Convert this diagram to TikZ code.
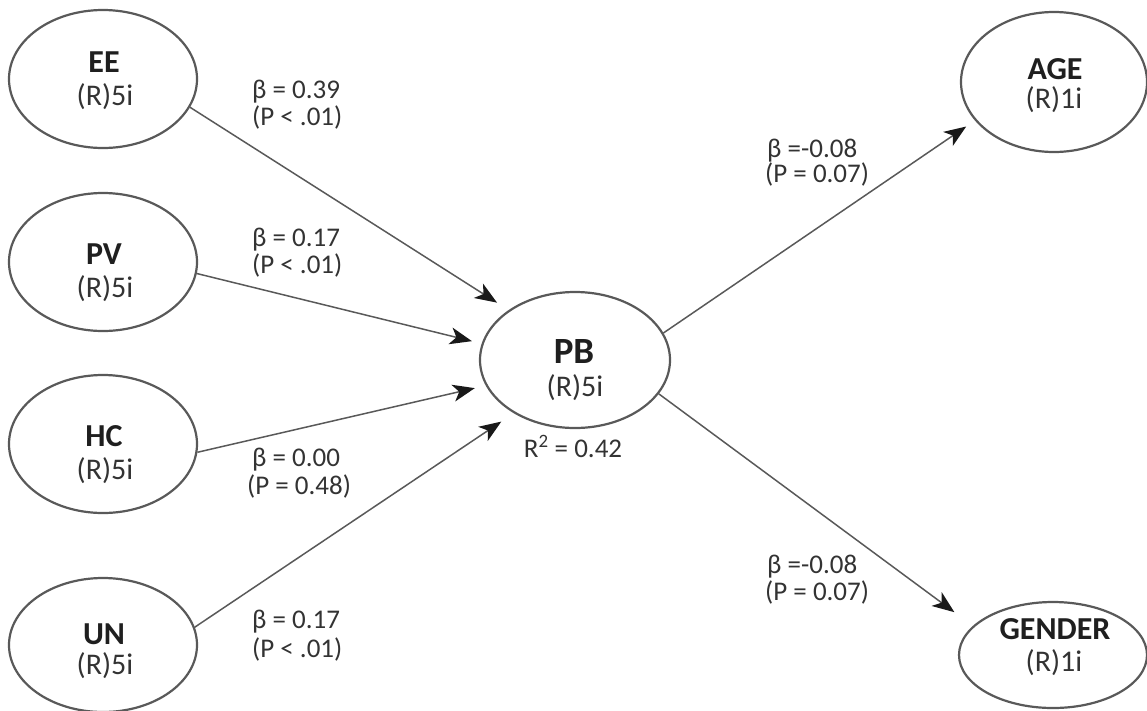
\documentclass[tikz,border=0pt]{standalone}
\usepackage{fontspec}
\setmainfont{Carlito}
\usetikzlibrary{arrows.meta,shapes.geometric}
\definecolor{linegray}{HTML}{595959}
\definecolor{txtc}{HTML}{1F1F1F}
\definecolor{lightc}{HTML}{333333}
\begin{document}
\begin{tikzpicture}[x=1pt,y=-1pt,
  ell/.style={draw=linegray, line width=2.2pt, ellipse, inner sep=0pt, minimum width=188pt, minimum height=138pt},
  bold/.style={anchor=base, inner sep=0pt, text=txtc, font=\fontsize{32}{34}\selectfont\bfseries},
  bigbold/.style={anchor=base, inner sep=0pt, text=txtc, font=\fontsize{37}{39}\selectfont\bfseries},
  light/.style={anchor=base, inner sep=0pt, text=lightc, font=\fontsize{30}{32}\selectfont},
  lab/.style={anchor=base west, inner sep=0pt, text=lightc, font=\fontsize{27}{29}\selectfont},
  arr/.style={draw=linegray, line width=1.5pt, -{Stealth[length=22pt,width=17pt,inset=6pt,color=black!90]}}
]
\useasboundingbox (0,0) rectangle (1147,710);

% ellipses
\node[ell] (EE) at (103,79) {};
\node[ell] (PV) at (103,262) {};
\node[ell] (HC) at (103,444) {};
\node[ell, minimum height=134pt] (UN) at (103,645) {};
\node[ell, minimum width=190pt, minimum height=136pt] (PB) at (575,360) {};
\node[ell, minimum width=186pt, minimum height=140pt] (AGE) at (1054,82) {};
\node[ell, minimum width=188pt, minimum height=106pt] (GENDER) at (1053,655) {};

% ellipse texts
\node[bold] (EEa) at (104,72) {EE};
\node[light] (EEb) at (105,105) {(R)5i};
\node[bold] (PVa) at (104,264) {PV};
\node[light] (PVb) at (105,297) {(R)5i};
\node[bold] (HCa) at (104,446) {HC};
\node[light] (HCb) at (105,479) {(R)5i};
\node[bold] (UNa) at (104,644) {UN};
\node[light] (UNb) at (105,674) {(R)5i};
\node[bigbold] (PBa) at (574,363) {PB};
\node[light] (PBb) at (575,396) {(R)5i};
\node[bold] (AGEa) at (1055,79) {AGE};
\node[light] (AGEb) at (1054,108) {(R)1i};
\node[bold] (GENa) at (1055,639) {GENDER};
\node[light] (GENb) at (1054,671) {(R)1i};

% connectors
\draw[arr, shorten >=13.8pt] (EE.-18.4) -- (PB.143.8);
\draw[arr, shorten >=10pt] (PV.-7.7) -- (PB.170.4);
\draw[arr, shorten >=11.2pt] (HC.-5.4) -- (PB.196.1);
\draw[arr, shorten >=15pt] (UN.11.5) -- (PB.221);
\draw[arr, shorten >=10.6pt] (PB.17) -- (AGE.206.8);
\draw[arr, shorten >=23pt] (PB.-22.9) -- (GENDER.160.3);

% labels
\node[lab] (l1a) at (252,98) {β = 0.39};
\node[lab] (l1b) at (252,125) {(P < .01)};
\node[lab] (l2a) at (252,246) {β = 0.17};
\node[lab] (l2b) at (252,273) {(P < .01)};
\node[lab] (l3a) at (252,466) {β = 0.00};
\node[lab] (l3b) at (247,494) {(P = 0.48)};
\node[lab] (l4a) at (252,628) {β = 0.17};
\node[lab] (l4b) at (252,657) {(P < .01)};
\node[lab] (r1a) at (767,157) {β =-0.08};
\node[lab] (r1b) at (765,182) {(P = 0.07)};
\node[lab] (r2a) at (767,573) {β =-0.08};
\node[lab] (r2b) at (765,600) {(P = 0.07)};
\node[lab, anchor=base] (r2) at (573,457) {R\textsuperscript{2} = 0.42};
\end{tikzpicture}
\end{document}
